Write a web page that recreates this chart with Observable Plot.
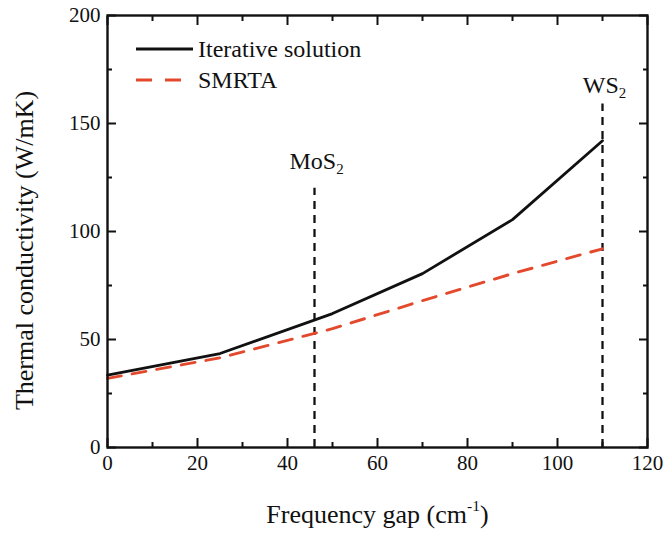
<!DOCTYPE html>
<html>
<head>
<meta charset="utf-8">
<script src="https://cdn.jsdelivr.net/npm/d3@7"></script>
<script src="https://cdn.jsdelivr.net/npm/@observablehq/plot@0.6"></script>
<style>
  html, body { margin: 0; padding: 0; background: #fff; }
  #wrap { position: relative; width: 665px; height: 533px; }
  #legend { position: absolute; left: 0; top: 0; }
  #wrap svg, #wrap svg text { font-family: "Liberation Serif", "DejaVu Serif", serif !important; }
</style>
</head>
<body>
<div id="wrap"></div>
<script>
// ---- data ----
const gap = [0, 25, 50, 70, 90, 110];
const iterative = [33.5, 43.5, 62, 80.5, 105.5, 142];
const smrta = [32, 41.5, 55, 68, 80.5, 92];

const markerNames = ["MoS_2", "WS_2"];
const markerX = [46, 110];
const markerTop = [120, 159];
const markerLabelY = [129, 164];

const xTicks = [0, 20, 40, 60, 80, 100, 120];
const xMinor = [10, 30, 50, 70, 90, 110];
const yTicks = [0, 50, 100, 150, 200];
const yMinor = [25, 75, 125, 175];

const seriesNames = ["Iterative solution", "SMRTA"];
const xLabel = "Frequency gap (cm^-1)";
const yLabel = "Thermal conductivity (W/mK)";

// ---- tables ----
const iterRows = gap.map((g, i) => ({ x: g, y: iterative[i] }));
const smrtaRows = gap.map((g, i) => ({ x: g, y: smrta[i] }));
const markers = markerNames.map((n, i) => ({ name: n, x: markerX[i], top: markerTop[i], ly: markerLabelY[i] }));

const RED = "#e3492c";
const FONT = "'Liberation Serif', 'DejaVu Serif', serif";

const chart = Plot.plot({
  width: 665,
  height: 533,
  marginLeft: 107,
  marginRight: 18,
  marginTop: 15,
  marginBottom: 86,
  x: { domain: [0, 120] },
  y: { domain: [0, 200] },
  style: { fontFamily: FONT, fontSize: "21px", color: "#111", background: "#fff" },
  marks: [
    Plot.ruleX(markers, { x: "x", y1: 0, y2: "top", stroke: "#111", strokeWidth: 2.3, strokeDasharray: "8,6" }),
    Plot.text(markers, { x: "x", y: "ly", text: "name", lineAnchor: "bottom", fontSize: 24, fill: "#111", dx: 2 }),
    Plot.line(smrtaRows, { x: "x", y: "y", stroke: RED, strokeWidth: 2.9, strokeDasharray: "14,11" }),
    Plot.line(iterRows, { x: "x", y: "y", stroke: "#111", strokeWidth: 2.8 }),
    Plot.frame({ stroke: "#111", strokeWidth: 2.4 }),
    Plot.axisX(xTicks, { anchor: "bottom", tickSize: -9, tickFormat: () => "", label: null, strokeWidth: 2 }),
    Plot.axisX(xMinor, { anchor: "bottom", tickSize: -5, tickFormat: () => "", label: null, strokeWidth: 2 }),
    Plot.axisX(xTicks, { anchor: "top", tickSize: -9, tickFormat: () => "", label: null, strokeWidth: 2 }),
    Plot.axisX(xMinor, { anchor: "top", tickSize: -5, tickFormat: () => "", label: null, strokeWidth: 2 }),
    Plot.axisY(yTicks, { anchor: "left", tickSize: -9, tickFormat: () => "", label: null, strokeWidth: 2 }),
    Plot.axisY(yMinor, { anchor: "left", tickSize: -5, tickFormat: () => "", label: null, strokeWidth: 2 }),
    Plot.axisY(yTicks, { anchor: "right", tickSize: -9, tickFormat: () => "", label: null, strokeWidth: 2 }),
    Plot.axisY(yMinor, { anchor: "right", tickSize: -5, tickFormat: () => "", label: null, strokeWidth: 2 }),
    Plot.axisX(xTicks, { anchor: "bottom", tickSize: 0, tickPadding: 8, label: null, fontSize: 21, fill: "#111" }),
    Plot.axisY(yTicks, { anchor: "left", tickSize: 0, tickPadding: 7, label: null, fontSize: 21, fill: "#111" }),
    Plot.text([xLabel], { frameAnchor: "bottom", text: d => d, textAnchor: "middle", lineAnchor: "bottom", dy: 75, fontSize: 26, fill: "#111" }),
    Plot.text([yLabel], { frameAnchor: "left", text: d => d, textAnchor: "middle", rotate: -90, lineAnchor: "bottom", dx: -75, dy: 19, fontSize: 26, fill: "#111" })
  ]
});

// sub/superscript post-processing
d3.select(chart).selectAll("text").each(function () {
  const t = this.textContent;
  const m = t.match(/^(.*?)([_^])(-?\d+)(.*)$/);
  if (!m) return;
  const sel = d3.select(this);
  sel.text(null);
  sel.append("tspan").text(m[1]);
  if (m[2] === "_") {
    sel.append("tspan").attr("font-size", "0.62em").attr("dy", "0.35em").text(m[3]);
    if (m[4]) sel.append("tspan").attr("dy", "-0.35em").text(m[4]);
  } else {
    sel.append("tspan").attr("font-size", "0.6em").attr("dy", "-0.75em").text(m[3]);
    sel.append("tspan").attr("dy", "0.45em").text(m[4]);
  }
});

const wrap = document.getElementById("wrap");
wrap.appendChild(chart);

// legend overlay
const lg = d3.select(wrap).append("svg").attr("id", "legend")
  .attr("width", 400).attr("height", 110);
lg.append("line").attr("x1", 136).attr("x2", 193).attr("y1", 49).attr("y2", 49)
  .attr("stroke", "#111").attr("stroke-width", 2.8);
lg.append("line").attr("x1", 136).attr("x2", 181).attr("y1", 80).attr("y2", 80)
  .attr("stroke", RED).attr("stroke-width", 2.9).attr("stroke-dasharray", "16,13");
lg.selectAll("text.lab").data(seriesNames).join("text").attr("class", "lab")
  .attr("x", 198).attr("y", (d, i) => 57 + i * 31)
  .attr("font-size", 24).attr("fill", "#111").text(d => d);
</script>
</body>
</html>
